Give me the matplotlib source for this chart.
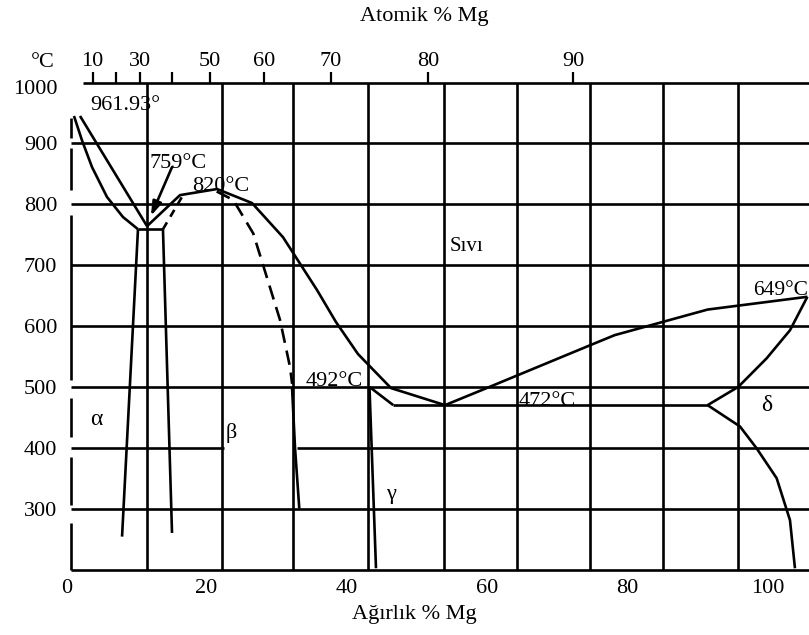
import matplotlib
matplotlib.use('Agg')
import matplotlib.pyplot as plt
import matplotlib.transforms as mtransforms

plt.rcParams['font.family'] = ['Liberation Serif', 'DejaVu Serif']

# ---------------- data (weight % Mg, temperature degC) ----------------
liq_ag_x = [1.97, 11.52]
liq_ag_y = [945, 764]
alpha_sol_x = [1.11, 2.25, 3.68, 5.81, 8.09, 10.23]
alpha_sol_y = [945, 905, 861, 812, 779, 759]
liq_mid_x = [11.52, 16.22, 21.49, 26.48, 30.89, 35.75, 38.42, 41.58, 46.29, 53.99]
liq_mid_y = [764, 815, 825, 802, 746, 659, 607, 554, 498, 470]
liq_mg_x = [53.99, 60.34, 74.79, 78.17, 91.41, 105.63]
liq_mg_y = [470, 500, 569, 585, 627, 648]
delta_sol_x = [105.63, 103.15, 99.83, 95.78, 91.41]
delta_sol_y = [648, 593, 547, 500, 470]
delta_solv_x = [91.41, 96.02, 98.40, 101.25, 103.15, 103.86]
delta_solv_y = [470, 435, 399, 350, 281, 202]
eut_x = [46.61, 91.41]
eut_y = [470, 470]
gam_liq_x = [43.22, 46.61]
gam_liq_y = [500, 470]
gam_r_x = [43.22, 44.15]
gam_r_y = [500, 202]
beta_r_dash_x = [21.45, 23.81, 26.66, 28.57, 30.47, 31.89, 32.2]
beta_r_dash_y = [821, 807, 752, 681, 610, 533, 505]
beta_r_x = [32.18, 32.61, 33.22]
beta_r_y = [500, 400, 300]
beta_l_dash_x = [13.79, 16.65]
beta_l_dash_y = [759, 815]
perit_x = [10.23, 13.79]
perit_y = [759, 759]
alpha_solv_x = [10.23, 7.96]
alpha_solv_y = [759, 254]
beta_l_x = [13.79, 15.08]
beta_l_y = [759, 260]

arrow_from = (15.08, 861)
arrow_to = (12.08, 781)

# axis scales
wt_ticks = [0, 20, 40, 60, 80, 100]
temp_ticks = [300, 400, 500, 600, 700, 800, 900, 1000]
at_tick_pos = [3.78, 7.10, 10.52, 15.03, 20.49, 28.19, 37.74, 51.56, 72.22]
at_tick_labels = ['10', '', '30', '', '50', '60', '70', '80', '90']

grid_x = [11.53, 22.2, 32.33, 42.97, 53.84, 64.24, 74.72, 85.12, 95.74]
grid_y = [300, 500, 600, 700, 800, 900]
grid400_left = (0.755, 22.56)
grid400_right = (32.85, 105.86)
frame_left_x = 0.755
frame_left_segments = [(941.7, 908.8), (892.4, 823.4), (782.3, 511.3),
                       (481.7, 417.7), (384.8, 305.9), (276.4, 199.2)]
top_line_start = 2.44
XMIN, XMAX = -0.5, 105.86

# ---------------- figure ----------------
W, H = 809, 635
fig = plt.figure(figsize=(W / 100, H / 100), dpi=100)
px_left = 66.2 + 7.017 * XMIN
ax = fig.add_axes([px_left / W, (H - 569.5) / H, (W - px_left) / W, 487 / H])
ax.set_xlim(XMIN, XMAX)
ax.set_ylim(200, 1000)
for s in ax.spines.values():
    s.set_visible(False)

LW = 1.9
K = 'black'

def line(x, y, **kw):
    ax.plot(x, y, color=K, lw=LW, clip_on=False, solid_capstyle='butt', **kw)

# frame
line([frame_left_x, XMAX], [200, 200])
line([top_line_start, XMAX], [1000, 1000])
for a, b in frame_left_segments:
    line([frame_left_x, frame_left_x], [a, b])

# grid
for gx in grid_x:
    line([gx, gx], [200, 1000])
for gy in grid_y:
    line([frame_left_x, XMAX], [gy, gy])
line(list(grid400_left), [400, 400])
line(list(grid400_right), [400, 400])

# phase boundaries
line(liq_ag_x, liq_ag_y)
line(alpha_sol_x, alpha_sol_y)
line(liq_mid_x, liq_mid_y)
line(liq_mg_x, liq_mg_y)
line(delta_sol_x, delta_sol_y)
line(delta_solv_x, delta_solv_y)
line(eut_x, eut_y)
line(gam_liq_x, gam_liq_y)
line(gam_r_x, gam_r_y)
line(beta_r_x, beta_r_y)
line(perit_x, perit_y)
line(alpha_solv_x, alpha_solv_y)
line(beta_l_x, beta_l_y)
line(beta_r_dash_x, beta_r_dash_y, linestyle=(0, (5.5, 3)))
line(beta_l_dash_x, beta_l_dash_y, linestyle=(0, (3, 2.5)))

ax.annotate('', xy=arrow_to, xytext=arrow_from,
            arrowprops=dict(arrowstyle='-|>,head_length=0.6,head_width=0.2',
                            lw=LW, color=K, shrinkA=0, shrinkB=0,
                            mutation_scale=14))

FS = 16
# ticks
ax.set_xticks(wt_ticks)
ax.set_xticklabels([str(v) for v in wt_ticks])
ax.set_yticks(temp_ticks)
ax.set_yticklabels([str(v) for v in temp_ticks])
ax.tick_params(axis='x', length=0, pad=7, labelsize=FS)
ax.tick_params(axis='y', length=0, pad=4, labelsize=FS)
top_lbl = ax.get_yticklabels()[-1]
top_lbl.set_transform(top_lbl.get_transform() +
                      mtransforms.ScaledTranslation(0, -5 / 100, fig.dpi_scale_trans))

ax2 = ax.twiny()
ax2.set_xlim(XMIN, XMAX)
for s in ax2.spines.values():
    s.set_visible(False)
ax2.set_xticks(at_tick_pos)
ax2.set_xticklabels(at_tick_labels)
ax2.tick_params(axis='x', direction='out', length=8, width=1.6, pad=0.5,
                labelsize=FS, color=K)

# texts
ax.text(-3.31, 1033, '°C', fontsize=FS, ha='center', va='center')
fig.text(424 / W, 1 - 16 / H, 'Atomik % Mg', fontsize=FS, ha='center', va='center')
fig.text(414 / W, 1 - 614 / H, 'Ağırlık % Mg', fontsize=FS, ha='center', va='center')

ax.text(3.39, 955, '961.93°', fontsize=FS, ha='left', va='baseline')
ax.text(11.94, 860, '759°C', fontsize=FS, ha='left', va='baseline')
ax.text(17.89, 822, '820°C', fontsize=FS, ha='left', va='baseline')
ax.text(56.98, 724, 'Sıvı', fontsize=FS - 1, ha='center', va='baseline')
ax.text(105.7, 651, '649°C', fontsize=FS - 0.5, ha='right', va='baseline', clip_on=False)
ax.text(34.07, 501, '492°C', fontsize=FS, ha='left', va='baseline')
ax.text(64.43, 469, '472°C', fontsize=FS, ha='left', va='baseline')
ax.text(4.34, 446, 'α', fontsize=FS + 1, ha='center', va='center')
ax.text(23.5, 424, 'β', fontsize=FS, ha='center', va='center')
ax.text(46.3, 324, 'γ', fontsize=FS, ha='center', va='center')
ax.text(99.83, 469, 'δ', fontsize=FS + 1, ha='center', va='center')

fig.savefig('out.png', dpi=100, facecolor='white')
